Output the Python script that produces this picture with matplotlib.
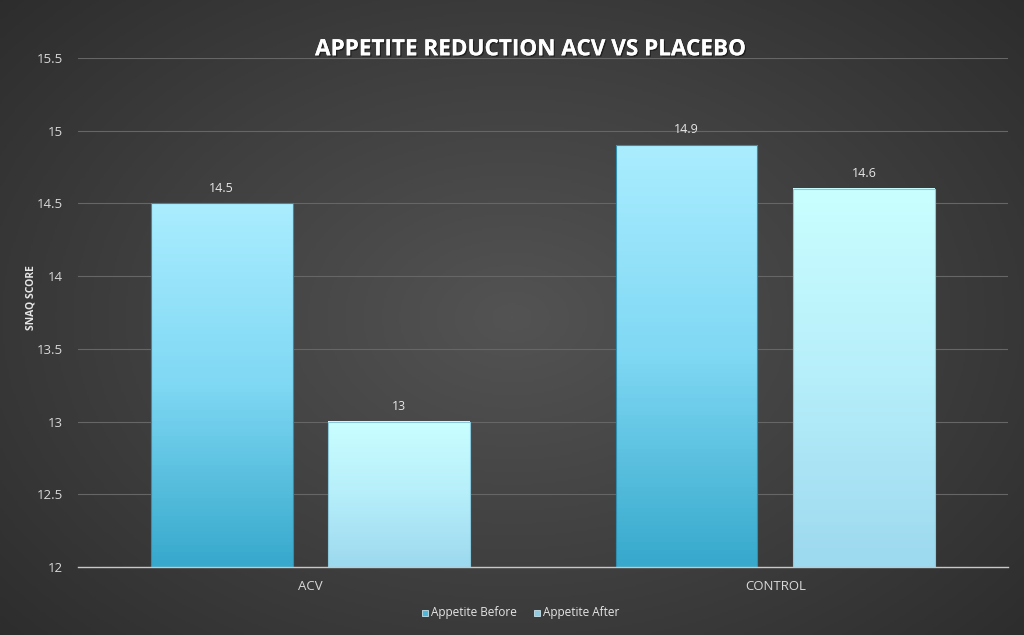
import matplotlib.pyplot as plt
import matplotlib.patheffects as pe
from matplotlib.patches import Rectangle
from matplotlib.colors import LinearSegmentedColormap
import numpy as np

plt.rcParams['font.family'] = ['Open Sans', 'DejaVu Sans']

## DATA
groups = ['ACV', 'CONTROL']
before = [14.5, 14.9]
after = [13.0, 14.6]
labels_before = ['14.5', '14.9']
labels_after = ['13', '14.6']
series = ['Appetite Before', 'Appetite After']
yticks = [12, 12.5, 13, 13.5, 14, 14.5, 15, 15.5]
ytick_labels = ['12', '12.5', '13', '13.5', '14', '14.5', '15', '15.5']

fig = plt.figure(figsize=(10.24, 6.35), dpi=100)

## background: radial gradient
bg = fig.add_axes([0, 0, 1, 1])
yy, xx = np.mgrid[-1:1:300j, -1:1:480j]
r = np.sqrt((xx * 0.9) ** 2 + (yy * 0.8) ** 2)
bg_cmap = LinearSegmentedColormap.from_list('bg', ['#535353', '#3f3f3f', '#2a2a2a'])
bg.imshow(r, cmap=bg_cmap, aspect='auto', extent=[0, 1, 0, 1], vmin=0, vmax=1.3)
bg.set_axis_off()

ax = fig.add_axes([0.0762, 0.107, 0.908, 0.802])
ax.patch.set_alpha(0)

cm_before = LinearSegmentedColormap.from_list('b', ['#37a9cc', '#7fd8f4', '#aaedff'])
cm_after = LinearSegmentedColormap.from_list('a', ['#9dd9ef', '#b6eefa', '#caffff'])

x = np.arange(len(groups))
w = 0.305
off = 0.191
grad = np.linspace(0, 1, 100).reshape(-1, 1)

def gbar(xc, val, cmap, edge):
    x0 = xc - w / 2
    ax.imshow(grad, cmap=cmap, origin='lower', aspect='auto',
              extent=[x0, x0 + w, 12, val], zorder=2)
    ax.add_patch(Rectangle((x0, 12), w, val - 12, fill=False,
                           edgecolor=edge, lw=0.8, zorder=3))

for i in range(len(groups)):
    gbar(x[i] - off, before[i], cm_before, '#2e8fb0')
    gbar(x[i] + off, after[i], cm_after, '#8cc8dc')
    ax.text(x[i] - off, before[i] + 0.06, labels_before[i], ha='center', va='bottom',
            color='#e6e6e6', fontsize=9)
    ax.text(x[i] + off, after[i] + 0.06, labels_after[i], ha='center', va='bottom',
            color='#e6e6e6', fontsize=9)

ax.set_xlim(-0.5, 1.5)
ax.set_ylim(12, 15.5)
ax.set_yticks(yticks)
ax.set_yticklabels(ytick_labels)
ax.set_xticks(x)
ax.set_xticklabels(groups)
ax.tick_params(axis='both', length=0, colors='#d9d9d9', labelsize=9.5)
ax.tick_params(axis='y', pad=11)
ax.tick_params(axis='x', pad=9)
ax.grid(axis='y', color='#666666', lw=0.8)
ax.set_axisbelow(True)
for s in ['top', 'right', 'left']:
    ax.spines[s].set_visible(False)
ax.spines['bottom'].set_color('#c8c8c8')
ax.spines['bottom'].set_linewidth(1.0)
ax.spines['bottom'].set_zorder(4)

ax.set_ylabel('SNAQ SCORE', color='#e6e6e6', fontsize=7.5, fontweight='bold')
ax.yaxis.set_label_coords(-0.045, 0.53)

fig.text(0.518, 0.905, 'APPETITE REDUCTION ACV VS PLACEBO', ha='center', va='bottom',
         color='white', fontsize=16.2, fontweight='bold',
         path_effects=[pe.withSimplePatchShadow(offset=(1, -1), shadow_rgbFace='black', alpha=0.45), pe.Normal()])

## legend
h1 = ax.scatter([], [], marker='s', s=22, color='#4fb8da', edgecolors='#dff6ff', linewidths=0.5)
h2 = ax.scatter([], [], marker='s', s=22, color='#8fcbe0', edgecolors='#dff6ff', linewidths=0.5)
leg = fig.legend([h1, h2], series, loc='center', bbox_to_anchor=(0.507, 0.036), ncol=2,
                 frameon=False, fontsize=8.5, handletextpad=0.0, columnspacing=1.2,
                 labelcolor='#e6e6e6', handlelength=1.0)

fig.savefig('out.png', dpi=100)
